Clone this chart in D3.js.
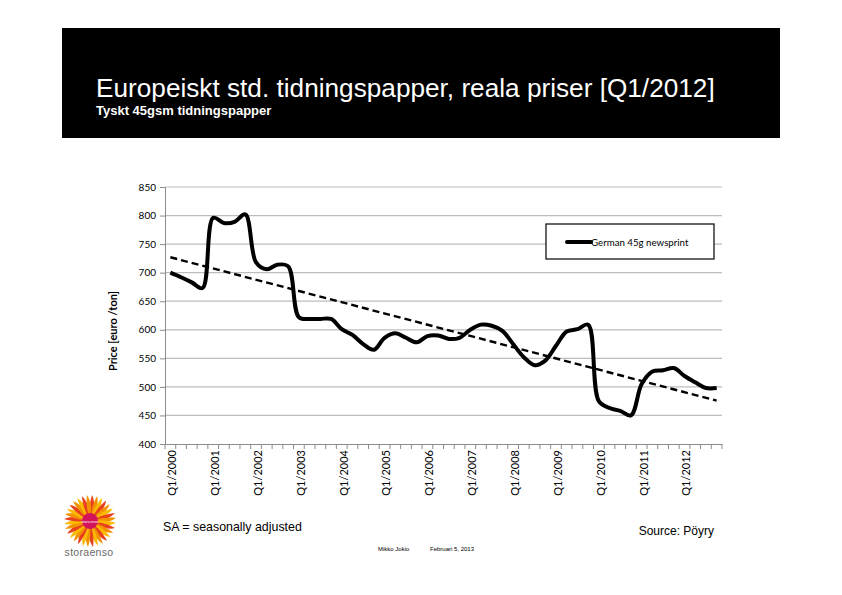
<!doctype html>
<html lang="sv">
<head>
<meta charset="utf-8">
<title>Europeiskt std. tidningspapper</title>
<script src="https://cdn.jsdelivr.net/npm/d3@7"></script>
<style>
  body { margin: 0; background: #fff; }
  svg { display: block; }
  .head { font-family: "Liberation Sans", Arial, sans-serif; fill: #fff; }
  .xl text { font-family: Lato, "Open Sans", sans-serif; font-size: 11px; fill: #000; }
  .yl text { font-family: Lato, "Open Sans", sans-serif; font-size: 10px; fill: #000; }
  .foot { font-family: "Liberation Sans", Arial, sans-serif; fill: #000; }
</style>
</head>
<body>
<svg></svg>
<script>
var width = 842, height = 595;

// data
var years = [2000, 2001, 2002, 2003, 2004, 2005, 2006, 2007, 2008, 2009, 2010, 2011, 2012];
var quarters = ["Q1", "Q2", "Q3", "Q4"];
var prices = [700, 692, 683, 673, 796, 787, 789, 802, 718, 706, 714, 711,
              622, 619, 619, 619, 601, 591, 575, 565, 586, 594, 586, 578,
              589, 590, 584, 586, 600, 609, 607, 598, 575, 552, 538, 546,
              572, 597, 601, 609, 475, 463, 458, 450, 505, 527, 529, 533,
              519, 508, 498, 498];
var trendEnds = [727, 476];   // trend line value at first and last quarter
var yTicks = [400, 450, 500, 550, 600, 650, 700, 750, 800, 850];

var categories = [];
years.forEach(function (y) {
    quarters.forEach(function (q) { categories.push(q + "/" + y); });
});
var tickLabels = years.map(function (y) { return "Q1/" + y; });

var svg = d3.select("svg").attr("width", width).attr("height", height);

// header
svg.append("rect").attr("x", 62).attr("y", 28).attr("width", 718).attr("height", 110).attr("fill", "#000");
svg.append("text").attr("class", "head").attr("x", 96).attr("y", 97)
    .attr("font-size", "26.2px").text("Europeiskt std. tidningspapper, reala priser [Q1/2012]");
svg.append("text").attr("class", "head").attr("x", 96).attr("y", 115)
    .attr("font-size", "13px").attr("font-weight", "bold").text("Tyskt 45gsm tidningspapper");

// chart
var plotLeft = 165, plotRight = 722, plotTop = 187, plotBottom = 444;

var xScale = d3.scaleBand().domain(categories).range([plotLeft, plotRight]);
var yScale = d3.scaleLinear().domain([400, 850]).range([plotBottom, plotTop]);

// gridlines
svg.append("g").selectAll("line")
    .data(yTicks.slice(1))
    .enter().append("line")
    .attr("x1", plotLeft).attr("x2", plotRight)
    .attr("y1", function (d) { return yScale(d); })
    .attr("y2", function (d) { return yScale(d); })
    .attr("stroke", "#bdbdbd").attr("stroke-width", 1.2);

// y axis
var yAxis = d3.axisLeft(yScale).tickValues(yTicks).tickSize(5).tickPadding(4);
var gy = svg.append("g").attr("class", "yl").attr("transform", "translate(" + plotLeft + ",0)").call(yAxis);
gy.selectAll("line, path").attr("stroke", "#8c8c8c");

// x axis
var xAxis = d3.axisBottom(xScale).tickValues(tickLabels).tickSize(0).tickPadding(0);
var gx = svg.append("g").attr("class", "xl").attr("transform", "translate(0," + plotBottom + ")").call(xAxis);
gx.select("path").attr("stroke", "#8c8c8c");
gx.selectAll("text")
    .attr("transform", "rotate(-90)")
    .attr("text-anchor", "end")
    .attr("x", -6).attr("y", 0).attr("dy", "0.35em");
gx.selectAll(".tick").attr("transform", function (d) {
    return "translate(" + (xScale(d) + xScale.bandwidth() / 2 + 2) + ",0)";
});
// category boundary ticks
svg.append("g").selectAll("line")
    .data(categories.concat(["end"]))
    .enter().append("line")
    .attr("x1", function (d, i) { return plotLeft + i * xScale.bandwidth(); })
    .attr("x2", function (d, i) { return plotLeft + i * xScale.bandwidth(); })
    .attr("y1", plotBottom).attr("y2", plotBottom + 5)
    .attr("stroke", "#8c8c8c");

// axis title
svg.append("text")
    .attr("transform", "translate(117,331) rotate(-90)")
    .attr("text-anchor", "middle")
    .attr("font-family", "Lato, sans-serif").attr("font-size", "11px").attr("font-weight", "bold")
    .text("Price [euro /ton]");

// trend line
var cx = function (i) { return xScale(categories[i]) + xScale.bandwidth() / 2; };
svg.append("line")
    .attr("x1", cx(0)).attr("y1", yScale(trendEnds[0]))
    .attr("x2", cx(categories.length - 1)).attr("y2", yScale(trendEnds[1]))
    .attr("stroke", "#000").attr("stroke-width", 2.4).attr("stroke-dasharray", "7,4");

// price line
var line = d3.line()
    .x(function (d, i) { return cx(i); })
    .y(function (d) { return yScale(d); })
    .curve(d3.curveCatmullRom.alpha(0.5));
svg.append("path").datum(prices)
    .attr("d", line)
    .attr("fill", "none").attr("stroke", "#000").attr("stroke-width", 4)
    .attr("stroke-linejoin", "round");

// legend
var lg = svg.append("g").attr("transform", "translate(546,224)");
lg.append("rect").attr("width", 168).attr("height", 35).attr("fill", "#fff").attr("stroke", "#000").attr("stroke-width", 1.2);
lg.append("line").attr("x1", 21).attr("x2", 45).attr("y1", 18).attr("y2", 18)
    .attr("stroke", "#000").attr("stroke-width", 4).attr("stroke-linecap", "round");
lg.append("text").attr("x", 45).attr("y", 21.5)
    .attr("font-family", "Lato, sans-serif").attr("font-size", "9.7px").text("German 45g newsprint");

// footer
svg.append("text").attr("class", "foot").attr("x", 163).attr("y", 531).attr("font-size", "12.4px")
    .text("SA = seasonally adjusted");
svg.append("text").attr("class", "foot").attr("x", 714).attr("y", 535).attr("font-size", "12px")
    .attr("text-anchor", "end").text("Source: Pöyry");
svg.append("text").attr("class", "foot").attr("x", 378).attr("y", 551).attr("font-size", "6px")
    .text("Mikko Jokio");
svg.append("text").attr("class", "foot").attr("x", 430).attr("y", 551).attr("font-size", "6px")
    .text("Februari 5, 2013");

// logo
var logo = svg.append("g").attr("transform", "translate(90,521)");
var petals = d3.range(32);
var petalColor = d3.scaleLinear().domain([0, 0.5, 1]).range(["#e8401c", "#f39200", "#fbb900"]);
logo.selectAll("path")
    .data(petals)
    .enter().append("path")
    .attr("d", "M0,-5 C5,-11 5,-20 2,-26 C0,-20 -1,-12 0,-5 Z")
    .attr("transform", function (d) { return "rotate(" + (d * 11.25) + ")"; })
    .attr("fill", function (d) { return petalColor((d % 3) / 2); });
logo.append("circle").attr("r", 8).attr("fill", "#d4145a");
logo.append("text").attr("y", 1.5).attr("text-anchor", "middle").attr("font-size", "3.5px")
    .attr("font-family", "Liberation Sans, sans-serif").attr("fill", "#fff").text("stora enso");
svg.append("text").attr("x", 89).attr("y", 556).attr("text-anchor", "middle")
    .attr("font-family", "Liberation Sans, sans-serif").attr("font-size", "10.5px").attr("fill", "#6b6b6b")
    .attr("letter-spacing", "0.3px").text("storaenso");
</script>
</body>
</html>
